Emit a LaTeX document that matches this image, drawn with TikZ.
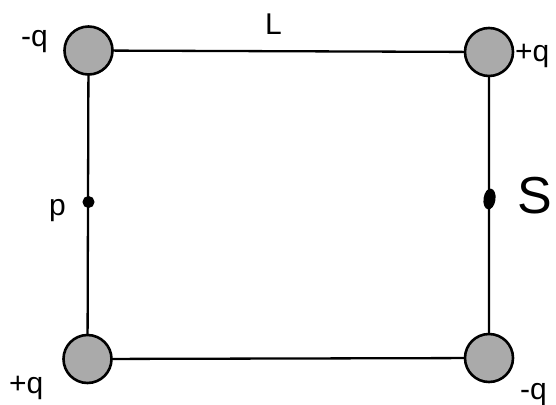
\documentclass[tikz,border=0pt]{standalone}
\usepackage{fontspec}
\setmainfont{Liberation Sans}
\usetikzlibrary{shapes.geometric}
\definecolor{chargegray}{RGB}{170,170,170}
\begin{document}
\begin{tikzpicture}[x=1pt,y=-1pt,
  charge/.style={circle,draw=black,line width=2.6pt,fill=chargegray,minimum size=48pt,inner sep=0pt},
  wire/.style={line width=2.3pt},
  lbl/.style={inner sep=0pt,anchor=base west,font=\fontsize{30}{32}\selectfont},
  pdot/.style={circle,fill=black,draw=black,line width=1pt,minimum size=11pt,inner sep=0pt}]
\useasboundingbox (0,0) rectangle (556,404);
\coordinate (tlc) at (88.5,50.5);
\coordinate (trc) at (489,52);
\coordinate (blc) at (87.5,359);
\coordinate (brc) at (489,358);
\draw[wire] (tlc) -- (trc) -- (brc) -- (blc) -- cycle;
\node[charge] (tl) at (tlc) {};
\node[charge] (tr) at (trc) {};
\node[charge] (bl) at (blc) {};
\node[charge] (br) at (brc) {};
\node[pdot] (p) at (88.5,202) {};
\node[ellipse,fill=black,inner sep=0pt,minimum width=12pt,minimum height=21pt,rotate=-8] (s) at (489.5,199) {};
\node[lbl] (ltl) at (21,47) {-q};
\node[lbl] (ltr) at (515,61) {+q};
\node[lbl] (lbl) at (9,393) {+q};
\node[lbl] (lbr) at (520,399) {-q};
\node[lbl] (lL) at (265,35) {L};
\node[lbl] (lp) at (49,215) {p};
\node[inner sep=0pt,anchor=base west,font=\fontsize{52}{54}\selectfont] (lS) at (517,213) {S};
\end{tikzpicture}
\end{document}
